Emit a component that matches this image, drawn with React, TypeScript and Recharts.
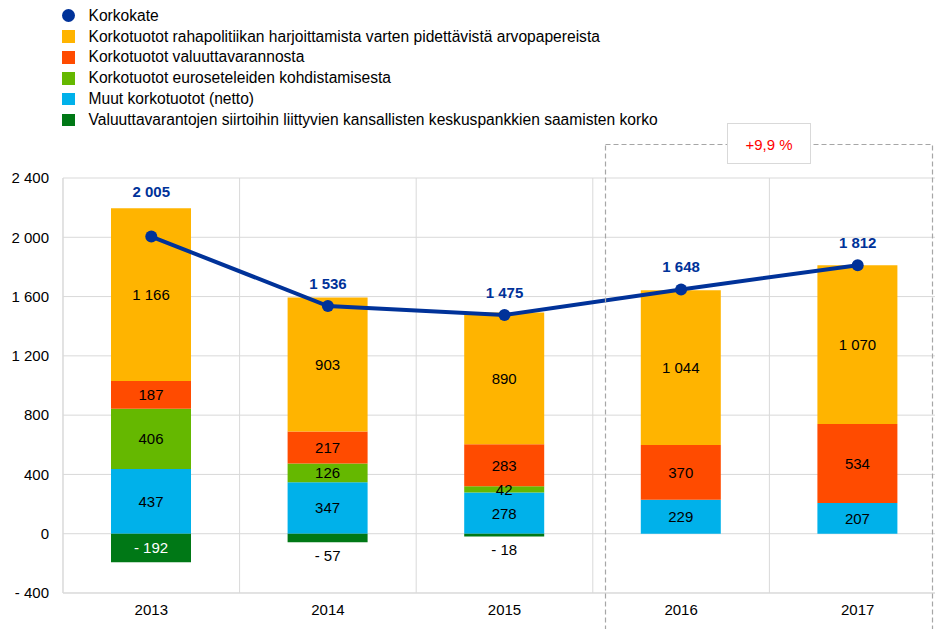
import React from 'react'
import {
  ComposedChart,
  Bar,
  Line,
  XAxis,
  YAxis,
  CartesianGrid,
  LabelList,
} from 'recharts'

const years = ['2013', '2014', '2015', '2016', '2017']
const korkokate = [2005, 1536, 1475, 1648, 1812]
const rahapolitiikka = [1166, 903, 890, 1044, 1070]
const valuutta = [187, 217, 283, 370, 534]
const eurosetelit = [406, 126, 42, null, null]
const muut = [437, 347, 278, 229, 207]
const kansalliset = [-192, -57, -18, null, null]
const yTicks = [-400, 0, 400, 800, 1200, 1600, 2000, 2400]

const names = {
  korkokate: 'Korkokate',
  rahapolitiikka: 'Korkotuotot rahapolitiikan harjoittamista varten pidettävistä arvopapereista',
  valuutta: 'Korkotuotot valuuttavarannosta',
  eurosetelit: 'Korkotuotot euroseteleiden kohdistamisesta',
  muut: 'Muut korkotuotot (netto)',
  kansalliset: 'Valuuttavarantojen siirtoihin liittyvien kansallisten keskuspankkien saamisten korko',
}

const colors = {
  korkokate: '#003299',
  rahapolitiikka: '#FFB400',
  valuutta: '#FF4B00',
  eurosetelit: '#65B800',
  muut: '#00B1EA',
  kansalliset: '#007816',
}

const legendOrder = ['korkokate', 'rahapolitiikka', 'valuutta', 'eurosetelit', 'muut', 'kansalliset'] as const

const data = years.map((year, i) => ({
  year,
  korkokate: korkokate[i],
  rahapolitiikka: rahapolitiikka[i],
  valuutta: valuutta[i],
  eurosetelit: eurosetelit[i],
  muut: muut[i],
  kansalliset: kansalliset[i],
}))

const FONT = 'Arial, "Liberation Sans", sans-serif'
const FS = 15
const TOP = 178
const BOTTOM_AXIS = 593
const PX_PER_UNIT = (BOTTOM_AXIS - TOP) / 2800

const fmt = (v: number) => {
  const s = String(Math.abs(v)).replace(/\B(?=(\d{3})+(?!\d))/g, ' ')
  return v < 0 ? '- ' + s : s
}

const segmentLabel = (props: any) => {
  const { x, y, width, height, value } = props
  if (value == null) return null
  return (
    <text
      x={x + width / 2}
      y={y + height / 2}
      textAnchor="middle"
      dominantBaseline="central"
      fontSize={FS}
      fontFamily={FONT}
      fill="#000"
    >
      {fmt(value)}
    </text>
  )
}

const negativeLabel = (props: any) => {
  const { x, y, width, height, value } = props
  if (value == null) return null
  const top = Math.min(y, y + height)
  const bottom = Math.max(y, y + height)
  const inside = bottom - top > 20
  return (
    <text
      x={x + width / 2}
      y={inside ? (top + bottom) / 2 : bottom + 13}
      textAnchor="middle"
      dominantBaseline="central"
      fontSize={FS}
      fontFamily={FONT}
      fill={inside ? '#fff' : '#000'}
    >
      {fmt(value)}
    </text>
  )
}

// value label above the point, or above the bar when the bar sticks out well above the line
const lineLabel = (props: any) => {
  const { x, y, value, index } = props
  if (value == null) return null
  const d = data[index]
  const stackTop = (d.muut || 0) + (d.eurosetelit || 0) + (d.valuutta || 0) + (d.rahapolitiikka || 0)
  const barTopY = y - (stackTop - value) * PX_PER_UNIT
  const cy = y - barTopY > 20 ? barTopY - 17 : y - 23
  return (
    <text
      x={x}
      y={cy}
      textAnchor="middle"
      dominantBaseline="central"
      fontSize={FS}
      fontWeight="bold"
      fontFamily={FONT}
      fill={colors.korkokate}
    >
      {fmt(value)}
    </text>
  )
}

const gridX = ({ offset }: any) =>
  years.map((_, i) => offset.left + (i * offset.width) / years.length).concat(offset.left + offset.width)

const Legend = () => (
  <div style={{ position: 'absolute', left: 62, top: 5.5, fontFamily: FONT, fontSize: 15.6, color: '#000' }}>
    {legendOrder.map((key) => (
      <div key={key} style={{ display: 'flex', alignItems: 'center', height: 20.8, whiteSpace: 'nowrap' }}>
        <span
          style={{
            display: 'inline-block',
            width: 13,
            height: key === 'korkokate' ? 13 : 12.5,
            borderRadius: key === 'korkokate' ? '50%' : 0,
            background: colors[key],
            marginRight: 13.5,
            flexShrink: 0,
          }}
        />
        {names[key]}
      </div>
    ))}
  </div>
)

export default function App() {
  return (
    <div style={{ position: 'absolute', left: 0, top: 0, width: 935, height: 629, overflow: 'hidden', background: '#fff' }}>
      <ComposedChart
        width={950}
        height={629}
        data={data}
        stackOffset="sign"
        margin={{ top: TOP, right: 4, bottom: 0, left: 8 }}
      >
        <CartesianGrid stroke="#d9d9d9" verticalCoordinatesGenerator={gridX} />
        <XAxis
          dataKey="year"
          axisLine={{ stroke: '#d9d9d9' }}
          tickLine={false}
          tickSize={0}
          tickMargin={11}
          height={36}
          tick={{ fill: '#000', fontSize: FS, fontFamily: FONT }}
        />
        <YAxis
          domain={[-400, 2400]}
          ticks={yTicks}
          width={55}
          axisLine={{ stroke: '#d9d9d9' }}
          tickLine={false}
          tickSize={0}
          tickMargin={14}
          tickFormatter={fmt}
          tick={{ fill: '#000', fontSize: FS, fontFamily: FONT }}
          allowDataOverflow
        />
        <Bar dataKey="muut" name={names.muut} stackId="s" fill={colors.muut} barSize={80} isAnimationActive={false}>
          <LabelList dataKey="muut" content={segmentLabel} />
        </Bar>
        <Bar dataKey="eurosetelit" name={names.eurosetelit} stackId="s" fill={colors.eurosetelit} barSize={80} isAnimationActive={false}>
          <LabelList dataKey="eurosetelit" content={segmentLabel} />
        </Bar>
        <Bar dataKey="valuutta" name={names.valuutta} stackId="s" fill={colors.valuutta} barSize={80} isAnimationActive={false}>
          <LabelList dataKey="valuutta" content={segmentLabel} />
        </Bar>
        <Bar dataKey="rahapolitiikka" name={names.rahapolitiikka} stackId="s" fill={colors.rahapolitiikka} barSize={80} isAnimationActive={false}>
          <LabelList dataKey="rahapolitiikka" content={segmentLabel} />
        </Bar>
        <Bar dataKey="kansalliset" name={names.kansalliset} stackId="s" fill={colors.kansalliset} barSize={80} isAnimationActive={false}>
          <LabelList dataKey="kansalliset" content={negativeLabel} />
        </Bar>
        <Line
          dataKey="korkokate"
          name={names.korkokate}
          stroke={colors.korkokate}
          strokeWidth={4}
          dot={{ r: 6, fill: colors.korkokate, stroke: colors.korkokate, strokeWidth: 0 }}
          activeDot={false}
          isAnimationActive={false}
        >
          <LabelList dataKey="korkokate" content={lineLabel} />
        </Line>
      </ComposedChart>
      <Legend />
      <svg width={935} height={629} style={{ position: 'absolute', left: 0, top: 0, pointerEvents: 'none' }}>
        <rect x={605.5} y={144.5} width={327} height={520} fill="none" stroke="#a6a6a6" strokeWidth={1.2} strokeDasharray="5 3" />
        <rect x={727.5} y={123.5} width={83} height={40} fill="#fff" stroke="#d9d9d9" strokeWidth={1} />
        <text x={769} y={144} textAnchor="middle" dominantBaseline="central" fontSize={FS} fontFamily={FONT} fill="#FF0000">
          +9,9 %
        </text>
      </svg>
    </div>
  )
}
